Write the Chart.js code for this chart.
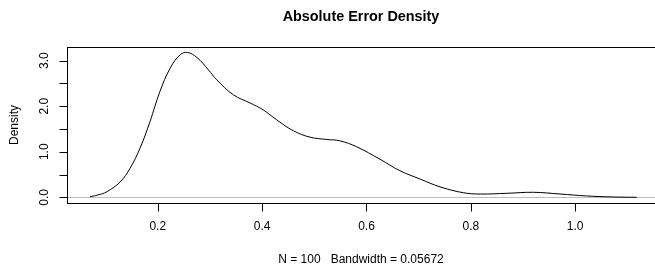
<!DOCTYPE html>
<html>
<head>
<meta charset="utf-8">
<script src="https://cdn.jsdelivr.net/npm/chart.js@4/dist/chart.umd.min.js"></script>
<style>
  html, body { margin: 0; padding: 0; background: #fff; }
  #wrap { width: 655px; height: 267px; }
</style>
</head>
<body>
<div id="wrap"><canvas id="densityChart" width="655" height="267"></canvas></div>
<script>
// density curve
const densityX = [0.070, 0.085, 0.102, 0.128, 0.147, 0.166, 0.185, 0.204, 0.224, 0.243,
                  0.257, 0.275, 0.297, 0.313, 0.345, 0.377, 0.402, 0.428, 0.460, 0.492,
                  0.524, 0.549, 0.581, 0.626, 0.664, 0.703, 0.741, 0.786, 0.818, 0.869,
                  0.920, 0.971, 1.022, 1.073, 1.118];
const densityY = [0.013, 0.05, 0.12, 0.34, 0.64, 1.08, 1.66, 2.32, 2.84, 3.13,
                  3.18, 3.07, 2.80, 2.58, 2.25, 2.07, 1.92, 1.70, 1.46, 1.32,
                  1.27, 1.24, 1.11, 0.835, 0.585, 0.40, 0.23, 0.10, 0.072, 0.088,
                  0.11, 0.072, 0.03, 0.007, 0.0];

const xTicks = [0.2, 0.4, 0.6, 0.8, 1.0];
const xTickLabels = ["0.2", "0.4", "0.6", "0.8", "1.0"];
const yTicks = [0, 0.5, 1, 1.5, 2, 2.5, 3];
const yLabelTicks = [0, 1, 2, 3];
const yTickLabels = ["0.0", "1.0", "2.0", "3.0"];

const titleText = "Absolute Error Density";
const subText = "N = 100   Bandwidth = 0.05672";
const yTitle = "Density";

const FONT = "'Liberation Sans', Arial, Helvetica, sans-serif";

// R-style frame, axes and labels
const rFrame = {
  id: "rFrame",
  beforeDatasetsDraw(chart) {
    const { ctx, chartArea: a, scales: { y } } = chart;
    ctx.save();
    // zero line
    ctx.strokeStyle = "#bebebe";
    ctx.lineWidth = 1;
    const y0 = Math.round(y.getPixelForValue(0)) + 0.5;
    ctx.beginPath();
    ctx.moveTo(a.left, y0);
    ctx.lineTo(a.right, y0);
    ctx.stroke();
    ctx.restore();
  },
  afterDatasetsDraw(chart) {
    const { ctx, chartArea: a, scales: { x, y } } = chart;
    ctx.save();
    ctx.strokeStyle = "#000";
    ctx.lineWidth = 1;
    const L = Math.round(a.left) + 0.5, T = Math.round(a.top) + 0.5;
    const B = Math.round(a.bottom) + 0.5, R = a.right + 5;
    ctx.strokeRect(L, T, R - L, B - T);

    // x axis ticks
    ctx.beginPath();
    xTicks.forEach(v => {
      const px = Math.round(x.getPixelForValue(v)) + 0.5;
      ctx.moveTo(px, B);
      ctx.lineTo(px, B + 8);
    });
    // y axis ticks
    yTicks.forEach(v => {
      const py = Math.round(y.getPixelForValue(v)) + 0.5;
      ctx.moveTo(L, py);
      ctx.lineTo(L - 8, py);
    });
    ctx.stroke();

    ctx.fillStyle = "#000";
    ctx.font = "12px " + FONT;
    ctx.textAlign = "center";
    ctx.textBaseline = "middle";
    xTicks.forEach((v, i) => {
      ctx.fillText(xTickLabels[i], x.getPixelForValue(v), 227);
    });
    yLabelTicks.forEach((v, i) => {
      ctx.save();
      ctx.translate(45, y.getPixelForValue(v));
      ctx.rotate(-Math.PI / 2);
      ctx.fillText(yTickLabels[i], 0, 0);
      ctx.restore();
    });

    ctx.save();
    ctx.translate(15, (a.top + a.bottom) / 2);
    ctx.rotate(-Math.PI / 2);
    ctx.fillText(yTitle, 0, 0);
    ctx.restore();

    ctx.fillText(subText, (a.left + 655) / 2, 260);

    ctx.font = "bold 14.4px " + FONT;
    ctx.fillText(titleText, (a.left + 655) / 2, 17);
    ctx.restore();
  }
};

new Chart(document.getElementById("densityChart"), {
  type: "line",
  data: {
    datasets: [{
      data: densityX.map((v, i) => ({ x: v, y: densityY[i] })),
      borderColor: "#000",
      borderWidth: 1,
      pointRadius: 0,
      fill: false,
      tension: 0.4
    }]
  },
  options: {
    responsive: false,
    animation: false,
    events: [],
    layout: { padding: { left: 67, right: 0, top: 47, bottom: 64 } },
    plugins: { legend: { display: false }, title: { display: false }, tooltip: { enabled: false } },
    scales: {
      x: { type: "linear", display: false, min: 0.026, max: 1.153 },
      y: { type: "linear", display: false, min: -0.125, max: 3.30 }
    }
  },
  plugins: [rFrame]
});
</script>
</body>
</html>
